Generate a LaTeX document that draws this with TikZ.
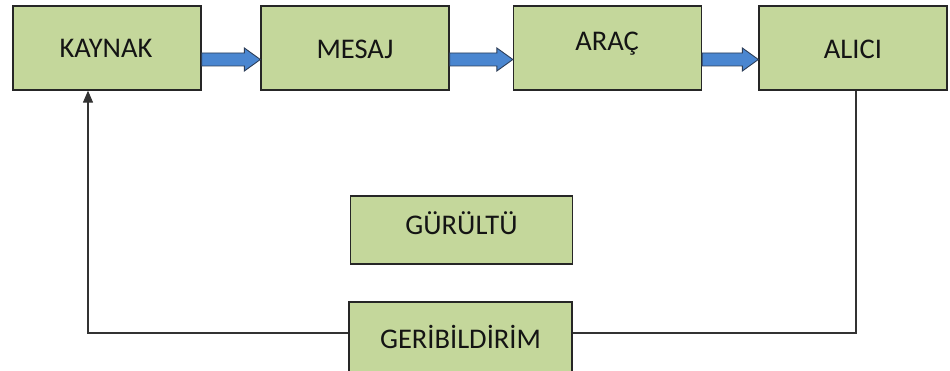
\documentclass[tikz,border=0pt]{standalone}
\usepackage{fontspec}
\setmainfont{Carlito}
\usetikzlibrary{arrows.meta,calc}
\definecolor{boxgreen}{RGB}{196,215,155}
\definecolor{arrowblue}{RGB}{74,134,208}
\definecolor{arrowedge}{RGB}{45,62,88}
\definecolor{txt}{RGB}{20,20,20}
\tikzset{
  box/.style={draw=black!85, line width=1.3pt, fill=boxgreen, inner sep=0pt},
  topbox/.style={box, minimum width=188pt, minimum height=84pt},
  lowbox/.style={box, minimum width=222pt, minimum height=68pt},
  lbl/.style={font=\fontsize{28.5}{31}\selectfont, text=txt, inner sep=0pt, text height=18pt, text depth=0pt},
  barrow/.style={fill=arrowblue, draw=arrowedge, line width=0.9pt, line join=miter},
  fb/.style={draw=black!80, line width=1.1pt},
}
\newcommand\blockarrow[2]{%
  \draw[barrow] ($(#1.east)+(0,5)$) -- ($(#2.west)+(-16,5)$) -- ($(#2.west)+(-16,0)$)
    -- ($(#2.west)+(0,11.5)$) -- ($(#2.west)+(-16,23)$) -- ($(#2.west)+(-16,18)$)
    -- ($(#1.east)+(0,18)$) -- cycle;}
\begin{document}
\begin{tikzpicture}[x=1pt,y=-1pt]
\useasboundingbox (0,0) rectangle (950,371);
\node[topbox] (kaynak) at (107,48) {};
\node[topbox] (mesaj) at (355,48) {};
\node[topbox] (arac) at (607.5,48) {};
\node[topbox] (alici) at (853,48) {};
\node[lowbox] (gurultu) at (461.5,230) {};
\node[box, minimum width=223pt, minimum height=72pt] (geri) at (460.5,338) {};
\node[lbl] (tk) at (106,49) {KAYNAK};
\node[lbl] (tm) at (355,49.5) {MESAJ};
\node[lbl] (ta) at (607,41.5) {ARAÇ};
\node[lbl] (tl) at (853,49.5) {ALICI};
\node[lbl] (tg) at (461.5,226) {GÜRÜLTÜ};
\node[lbl] (tf) at (460.5,339.5) {GERİBİLDİRİM};
\blockarrow{kaynak}{mesaj}
\blockarrow{mesaj}{arac}
\blockarrow{arac}{alici}
\coordinate (fr) at ($(geri.east)+(0,-5)$);
\coordinate (fl) at ($(geri.west)+(0,-5)$);
\coordinate (ad) at ($(alici.south)+(3,0)$);
\coordinate (ku) at ($(kaynak.south)+(-19,0)$);
\draw[fb] (ad) |- (fr);
\draw[fb, -{Triangle[length=12pt,width=10pt]}] (fl) -| (ku);
\end{tikzpicture}
\end{document}
